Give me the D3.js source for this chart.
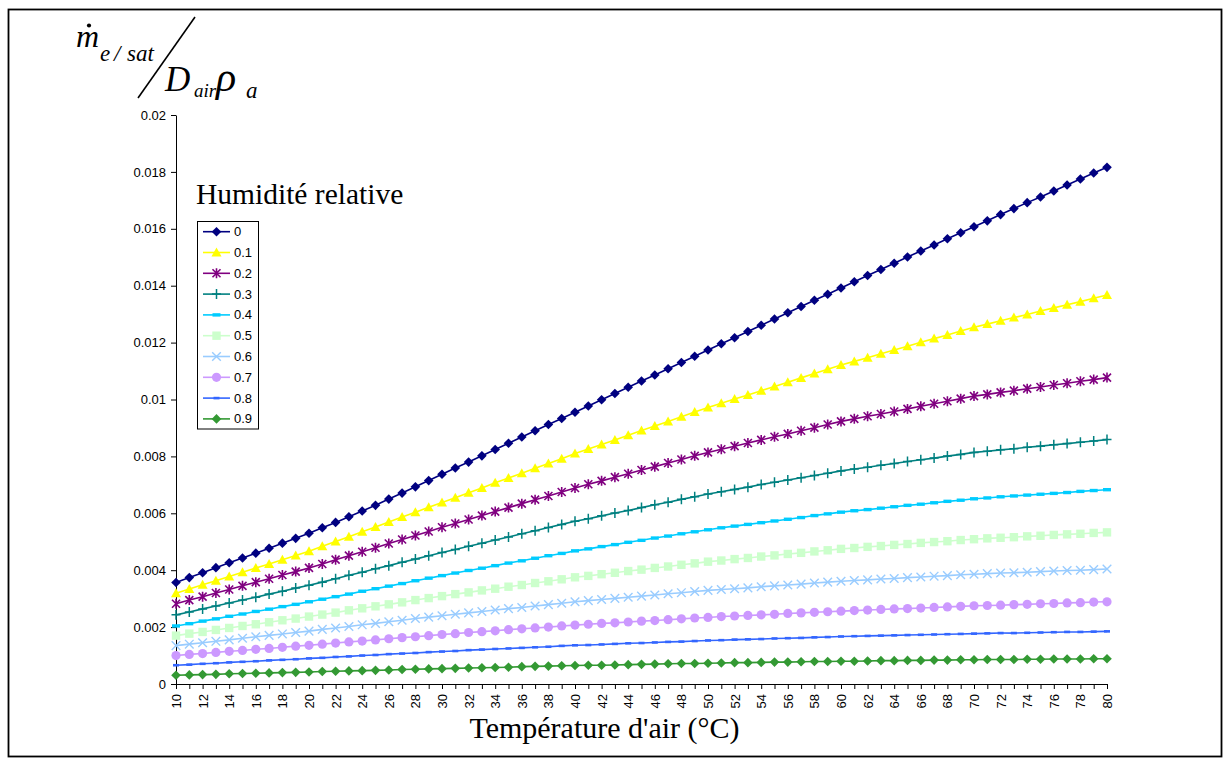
<!DOCTYPE html>
<html><head><meta charset="utf-8">
<script src="https://cdn.jsdelivr.net/npm/d3@7"></script>
<style>body{margin:0;background:#fff}svg{display:block}</style>
</head><body>
<svg id="chart" width="1231" height="765"></svg>
<script>
const temperatures = [10,11,12,13,14,15,16,17,18,19,20,21,22,23,24,25,26,27,28,29,30,31,32,33,34,35,36,37,38,39,40,41,42,43,44,45,46,47,48,49,50,51,52,53,54,55,56,57,58,59,60,61,62,63,64,65,66,67,68,69,70,71,72,73,74,75,76,77,78,79,80];
const xTickLabels = [10,12,14,16,18,20,22,24,26,28,30,32,34,36,38,40,42,44,46,48,50,52,54,56,58,60,62,64,66,68,70,72,74,76,78,80];
const yTicks = [0,0.002,0.004,0.006,0.008,0.01,0.012,0.014,0.016,0.018,0.02];
const yTickLabels = ["0","0.002","0.004","0.006","0.008","0.01","0.012","0.014","0.016","0.018","0.02"];
const seriesNames = ["0","0.1","0.2","0.3","0.4","0.5","0.6","0.7","0.8","0.9"];

const hr00 = [0.00357,0.00374,0.00391,0.00409,0.00426,0.00443,0.00460,0.00477,0.00495,0.00512,0.00530,0.00549,0.00568,0.00588,0.00608,0.00628,0.00650,0.00671,0.00693,0.00715,0.00737,0.00759,0.00780,0.00802,0.00824,0.00846,0.00868,0.00890,0.00912,0.00933,0.00955,0.00977,0.00999,0.01021,0.01043,0.01065,0.01086,0.01108,0.01130,0.01152,0.01174,0.01196,0.01217,0.01239,0.01261,0.01283,0.01305,0.01327,0.01349,0.01370,0.01392,0.01414,0.01436,0.01457,0.01479,0.01501,0.01522,0.01543,0.01565,0.01586,0.01607,0.01628,0.01650,0.01671,0.01692,0.01712,0.01733,0.01754,0.01775,0.01796,0.01816];
const hr01 = [0.00319,0.00334,0.00349,0.00363,0.00378,0.00393,0.00408,0.00422,0.00437,0.00452,0.00467,0.00484,0.00501,0.00518,0.00535,0.00552,0.00569,0.00587,0.00604,0.00621,0.00638,0.00655,0.00672,0.00689,0.00707,0.00724,0.00741,0.00758,0.00775,0.00792,0.00810,0.00826,0.00842,0.00858,0.00874,0.00891,0.00907,0.00923,0.00939,0.00956,0.00972,0.00987,0.01002,0.01016,0.01031,0.01046,0.01061,0.01076,0.01091,0.01106,0.01121,0.01134,0.01147,0.01161,0.01174,0.01187,0.01201,0.01214,0.01227,0.01241,0.01254,0.01265,0.01277,0.01288,0.01299,0.01311,0.01322,0.01333,0.01344,0.01356,0.01367];
const hr02 = [0.00282,0.00295,0.00307,0.00320,0.00332,0.00345,0.00358,0.00370,0.00383,0.00395,0.00408,0.00422,0.00437,0.00451,0.00465,0.00479,0.00494,0.00508,0.00522,0.00536,0.00551,0.00564,0.00578,0.00592,0.00606,0.00620,0.00634,0.00648,0.00661,0.00675,0.00689,0.00702,0.00714,0.00727,0.00739,0.00752,0.00764,0.00777,0.00789,0.00802,0.00814,0.00825,0.00836,0.00847,0.00858,0.00869,0.00879,0.00890,0.00901,0.00912,0.00923,0.00932,0.00941,0.00949,0.00958,0.00967,0.00976,0.00985,0.00994,0.01003,0.01012,0.01018,0.01025,0.01031,0.01038,0.01044,0.01051,0.01057,0.01064,0.01070,0.01077];
const hr03 = [0.00243,0.00253,0.00264,0.00274,0.00285,0.00295,0.00305,0.00316,0.00326,0.00337,0.00347,0.00358,0.00370,0.00382,0.00393,0.00405,0.00416,0.00428,0.00439,0.00451,0.00462,0.00473,0.00484,0.00495,0.00506,0.00517,0.00528,0.00539,0.00550,0.00561,0.00572,0.00581,0.00591,0.00601,0.00610,0.00620,0.00630,0.00639,0.00649,0.00658,0.00668,0.00676,0.00684,0.00692,0.00701,0.00709,0.00717,0.00725,0.00733,0.00741,0.00749,0.00756,0.00762,0.00769,0.00775,0.00782,0.00788,0.00794,0.00801,0.00807,0.00814,0.00818,0.00823,0.00827,0.00832,0.00836,0.00841,0.00845,0.00850,0.00854,0.00859];
const hr04 = [0.00204,0.00212,0.00221,0.00229,0.00238,0.00246,0.00255,0.00263,0.00272,0.00280,0.00289,0.00298,0.00307,0.00316,0.00326,0.00335,0.00344,0.00353,0.00363,0.00372,0.00381,0.00390,0.00399,0.00407,0.00416,0.00425,0.00433,0.00442,0.00451,0.00459,0.00468,0.00475,0.00483,0.00490,0.00498,0.00505,0.00513,0.00520,0.00528,0.00535,0.00542,0.00549,0.00555,0.00561,0.00567,0.00573,0.00579,0.00585,0.00592,0.00598,0.00604,0.00609,0.00613,0.00618,0.00623,0.00628,0.00632,0.00637,0.00642,0.00646,0.00651,0.00654,0.00658,0.00661,0.00664,0.00667,0.00670,0.00673,0.00677,0.00680,0.00683];
const hr05 = [0.00170,0.00177,0.00183,0.00190,0.00197,0.00204,0.00210,0.00217,0.00224,0.00230,0.00237,0.00244,0.00251,0.00259,0.00266,0.00273,0.00280,0.00287,0.00295,0.00302,0.00309,0.00316,0.00322,0.00329,0.00335,0.00342,0.00348,0.00355,0.00361,0.00368,0.00375,0.00380,0.00386,0.00391,0.00397,0.00402,0.00408,0.00413,0.00419,0.00424,0.00430,0.00434,0.00439,0.00443,0.00448,0.00452,0.00457,0.00461,0.00466,0.00470,0.00475,0.00478,0.00482,0.00485,0.00489,0.00492,0.00496,0.00499,0.00502,0.00506,0.00509,0.00512,0.00514,0.00516,0.00519,0.00521,0.00524,0.00526,0.00528,0.00531,0.00533];
const hr06 = [0.00135,0.00140,0.00145,0.00150,0.00155,0.00161,0.00166,0.00171,0.00176,0.00181,0.00186,0.00192,0.00197,0.00202,0.00208,0.00213,0.00219,0.00224,0.00230,0.00235,0.00240,0.00245,0.00250,0.00255,0.00260,0.00265,0.00269,0.00274,0.00279,0.00284,0.00289,0.00293,0.00297,0.00301,0.00305,0.00309,0.00313,0.00317,0.00321,0.00325,0.00329,0.00332,0.00335,0.00338,0.00342,0.00345,0.00348,0.00351,0.00355,0.00358,0.00361,0.00364,0.00366,0.00369,0.00371,0.00374,0.00376,0.00379,0.00381,0.00384,0.00386,0.00388,0.00390,0.00391,0.00393,0.00395,0.00397,0.00399,0.00400,0.00402,0.00404];
const hr07 = [0.00100,0.00104,0.00107,0.00111,0.00115,0.00118,0.00122,0.00125,0.00129,0.00133,0.00136,0.00140,0.00144,0.00148,0.00151,0.00155,0.00159,0.00163,0.00166,0.00170,0.00174,0.00177,0.00181,0.00184,0.00187,0.00191,0.00194,0.00197,0.00200,0.00204,0.00207,0.00210,0.00213,0.00215,0.00218,0.00221,0.00223,0.00226,0.00229,0.00232,0.00234,0.00237,0.00239,0.00241,0.00243,0.00245,0.00248,0.00250,0.00252,0.00254,0.00256,0.00258,0.00260,0.00262,0.00264,0.00265,0.00267,0.00269,0.00271,0.00273,0.00275,0.00276,0.00277,0.00279,0.00280,0.00282,0.00283,0.00285,0.00286,0.00288,0.00289];
const hr08 = [0.00066,0.00068,0.00071,0.00073,0.00076,0.00078,0.00080,0.00083,0.00085,0.00087,0.00090,0.00092,0.00095,0.00097,0.00100,0.00102,0.00105,0.00107,0.00109,0.00112,0.00114,0.00116,0.00119,0.00121,0.00123,0.00125,0.00127,0.00129,0.00131,0.00134,0.00136,0.00137,0.00139,0.00141,0.00143,0.00144,0.00146,0.00148,0.00149,0.00151,0.00153,0.00154,0.00156,0.00157,0.00158,0.00160,0.00161,0.00162,0.00164,0.00165,0.00167,0.00168,0.00169,0.00170,0.00171,0.00172,0.00173,0.00174,0.00175,0.00176,0.00177,0.00178,0.00179,0.00179,0.00180,0.00181,0.00182,0.00183,0.00183,0.00184,0.00185];
const hr09 = [0.00031,0.00032,0.00033,0.00034,0.00036,0.00037,0.00038,0.00039,0.00040,0.00041,0.00042,0.00044,0.00045,0.00046,0.00047,0.00048,0.00049,0.00051,0.00052,0.00053,0.00054,0.00055,0.00056,0.00057,0.00058,0.00059,0.00061,0.00062,0.00063,0.00064,0.00065,0.00066,0.00066,0.00067,0.00068,0.00069,0.00070,0.00071,0.00072,0.00072,0.00073,0.00074,0.00075,0.00075,0.00076,0.00077,0.00077,0.00078,0.00079,0.00079,0.00080,0.00080,0.00081,0.00082,0.00082,0.00083,0.00083,0.00084,0.00084,0.00085,0.00085,0.00086,0.00086,0.00086,0.00087,0.00087,0.00088,0.00088,0.00088,0.00089,0.00089];

const seriesValues = [hr00,hr01,hr02,hr03,hr04,hr05,hr06,hr07,hr08,hr09];
const seriesColors = ["#000080","#FFFF00","#800080","#008080","#00CCFF","#CCFFCC","#99CCFF","#CC99FF","#3366FF","#339933"];
const seriesMarkers = ["diamond","triangle","asterisk","plus","dash","square","cross","circle","smalldash","diamond"];

const svg = d3.select("#chart");
const W = 1231, H = 765;
svg.append("rect").attr("x",0).attr("y",0).attr("width",W).attr("height",H).attr("fill","#fff");
svg.append("rect").attr("x",8.5).attr("y",9.5).attr("width",1213).attr("height",747)
  .attr("fill","none").attr("stroke","#000").attr("stroke-width",1.8);

const x = d3.scaleLinear().domain([10,80]).range([176,1107]);
const y = d3.scaleLinear().domain([0,0.02]).range([684,115]);
const sansFont = "Liberation Sans, Arial, sans-serif";
const serifFont = "Liberation Serif, Times New Roman, serif";

// Y axis
const yAxis = svg.append("g").attr("transform","translate(176,0)")
  .call(d3.axisLeft(y).tickValues(yTicks).tickFormat((d,i)=>yTickLabels[i]).tickSize(5).tickSizeOuter(0));
yAxis.select(".domain").attr("stroke","#000");
yAxis.selectAll(".tick line").attr("stroke","#000");
yAxis.selectAll("text").attr("font-family",sansFont).attr("font-size",13).attr("fill","#000").attr("x",-10);

// X axis
const xAxis = svg.append("g").attr("transform","translate(0,684)")
  .call(d3.axisBottom(x).tickValues(temperatures).tickFormat(d => xTickLabels.includes(d) ? String(d) : "").tickSize(5).tickSizeOuter(0));
xAxis.select(".domain").attr("stroke","#000");
xAxis.selectAll(".tick line").attr("stroke","#000");
xAxis.selectAll("text").attr("font-family",sansFont).attr("font-size",13).attr("fill","#000")
  .attr("transform","rotate(-90)").attr("text-anchor","end").attr("x",-10).attr("y",0).attr("dy","0.35em");

// Markers
function drawMarker(g, type, color, cx, cy) {
  const t = `translate(${cx},${cy})`;
  switch (type) {
    case "diamond":
      g.append("path").attr("d","M0,-4.8L4.8,0L0,4.8L-4.8,0Z").attr("fill",color).attr("transform",t); break;
    case "triangle":
      g.append("path").attr("d","M0,-5L5,4L-5,4Z").attr("fill",color).attr("transform",t); break;
    case "asterisk":
      g.append("path").attr("d","M-4,-4L4,4M-4,4L4,-4M0,-5L0,5").attr("stroke",color).attr("stroke-width",1.6).attr("fill","none").attr("transform",t); break;
    case "plus":
      g.append("path").attr("d","M-4.5,0L4.5,0M0,-5L0,5").attr("stroke",color).attr("stroke-width",1.5).attr("fill","none").attr("transform",t); break;
    case "dash":
      g.append("rect").attr("x",-4).attr("y",-1.7).attr("width",8).attr("height",3.4).attr("fill",color).attr("transform",t); break;
    case "square":
      g.append("rect").attr("x",-4.2).attr("y",-4.2).attr("width",8.4).attr("height",8.4).attr("fill",color).attr("transform",t); break;
    case "cross":
      g.append("path").attr("d","M-4.3,-4.3L4.3,4.3M-4.3,4.3L4.3,-4.3").attr("stroke",color).attr("stroke-width",1.4).attr("fill","none").attr("transform",t); break;
    case "circle":
      g.append("circle").attr("r",4.6).attr("fill",color).attr("transform",t); break;
    case "smalldash":
      g.append("rect").attr("x",-3).attr("y",-1.3).attr("width",6).attr("height",2.6).attr("fill",color).attr("transform",t); break;
  }
}

const line = d3.line().x((d,i)=>x(temperatures[i])).y(d=>y(d));
const plot = svg.append("g");
seriesValues.forEach((vals, s) => {
  const g = plot.append("g");
  g.append("path").datum(vals).attr("d",line).attr("fill","none").attr("stroke",seriesColors[s]).attr("stroke-width",1.6);
  vals.forEach((v,i) => drawMarker(g, seriesMarkers[s], seriesColors[s], x(temperatures[i]), y(v)));
});

// Legend
svg.append("text").attr("x",196).attr("y",204).attr("font-family",serifFont)
  .attr("font-size",29.5).attr("fill","#000").text("Humidité relative");
const lg = svg.append("g");
lg.append("rect").attr("x",197.5).attr("y",221.5).attr("width",61).attr("height",207.5).attr("fill","#fff").attr("stroke","#000").attr("stroke-width",1);
seriesNames.forEach((name,i) => {
  const cy = 231.7 + i*20.8;
  lg.append("line").attr("x1",203).attr("x2",230).attr("y1",cy).attr("y2",cy).attr("stroke",seriesColors[i]).attr("stroke-width",1.6);
  drawMarker(lg, seriesMarkers[i], seriesColors[i], 216.5, cy);
  lg.append("text").attr("x",234).attr("y",cy).attr("dy","0.35em").attr("font-family",sansFont).attr("font-size",13).attr("fill","#000").text(name);
});

// Axis title
svg.append("text").attr("x",604.5).attr("y",738).attr("text-anchor","middle").attr("font-family",serifFont)
  .attr("font-size",30).attr("fill","#000").text("Température d'air (°C)");

// Y formula label
const f = svg.append("g").attr("font-family",serifFont).attr("font-style","italic").attr("fill","#000");
f.append("text").attr("x",76).attr("y",47).attr("font-size",32).text("m");
f.append("circle").attr("cx",89).attr("cy",25.5).attr("r",2.1);
f.append("text").attr("x",100).attr("y",61).attr("font-size",23).text("e");
f.append("text").attr("x",114).attr("y",61).attr("font-size",23).text("/");
f.append("text").attr("x",127).attr("y",61).attr("font-size",23).text("sat");
f.append("line").attr("x1",195).attr("y1",17).attr("x2",138).attr("y2",98).attr("stroke","#000").attr("stroke-width",1.6);
f.append("text").attr("x",165).attr("y",91).attr("font-size",35).text("D");
f.append("text").attr("x",194).attr("y",97).attr("font-size",19).text("air");
f.append("text").attr("x",216).attr("y",91).attr("font-size",42).text("ρ");
f.append("text").attr("x",246).attr("y",98).attr("font-size",23).text("a");
</script>
</body></html>
